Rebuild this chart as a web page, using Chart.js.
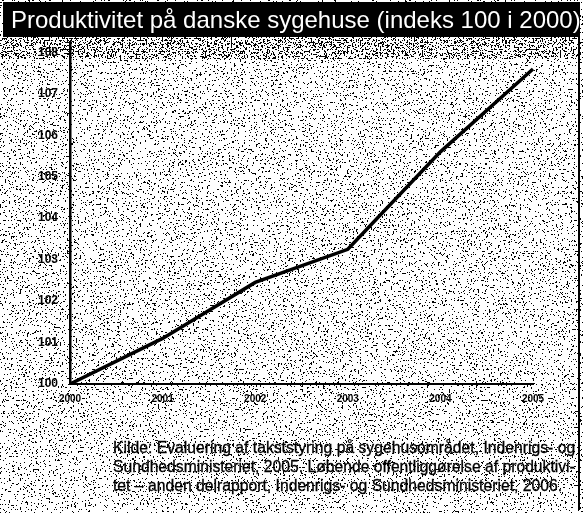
<!DOCTYPE html>
<html lang="da">
<head>
<meta charset="utf-8">
<title>Produktivitet på danske sygehuse</title>
<script src="https://cdn.jsdelivr.net/npm/chart.js@4.4.1/dist/chart.umd.min.js"></script>
<style>
  html, body { margin: 0; padding: 0; background: #fff; }
  #ramme { position: relative; width: 583px; height: 513px; overflow: hidden; font-family: "Liberation Sans", Arial, sans-serif; }
  #stoej, #graf { position: absolute; left: 0; top: 0; }
  #titel {
    position: absolute; left: 3px; top: 2px; width: 577px; height: 35px;
    background: #000; color: #fff; font-size: 24px; line-height: 35px;
    white-space: nowrap; box-sizing: border-box; padding-left: 8px;
  }
  #kant { position: absolute; left: 578px; top: 37px; width: 2px; height: 473px; background: #000; }
  .kilde {
    position: absolute; left: 113px; font-size: 16.5px; color: #000;
    white-space: nowrap; transform-origin: 0 0;
    -webkit-text-stroke: 0.3px #000;
  }
</style>
</head>
<body>
<div id="ramme">
  <!-- scannet baggrund: deterministisk støj via SVG-filter -->
  <svg id="stoej" width="583" height="513">
    <filter id="prik" x="0" y="0" width="100%" height="100%">
      <feTurbulence type="fractalNoise" baseFrequency="0.55" numOctaves="2" seed="7"/>
      <feColorMatrix type="matrix" values="0 0 0 0 0  0 0 0 0 0  0 0 0 0 0  1 0 0 0 0"/>
      <feComponentTransfer>
        <feFuncA type="discrete" tableValues="0 0 0 0 0 0 0 0 0 0 0 0 0 1 1 1 1 1 1 1"/>
      </feComponentTransfer>
    </filter>
    <filter id="taet" x="0" y="0" width="100%" height="100%">
      <feTurbulence type="fractalNoise" baseFrequency="0.55" numOctaves="2" seed="11"/>
      <feColorMatrix type="matrix" values="0 0 0 0 0  0 0 0 0 0  0 0 0 0 0  1 0 0 0 0"/>
      <feComponentTransfer>
        <feFuncA type="discrete" tableValues="0 0 0 0 0 0 0 0 0 0 0 0 1 1 1 1 1 1 1 1"/>
      </feComponentTransfer>
    </filter>
    <rect width="583" height="513" filter="url(#prik)"/>
    <rect y="37" width="583" height="22" filter="url(#taet)"/>
  </svg>
  <canvas id="graf" width="583" height="513"></canvas>
  <div id="titel">Produktivitet på danske sygehuse (indeks 100 i 2000)</div>
  <div id="kant"></div>
  <div class="kilde" id="linje1" style="top:438px">Kilde: Evaluering af takststyring på sygehusområdet, Indenrigs- og</div>
  <div class="kilde" id="linje2" style="top:457px">Sundhedsministeriet, 2005. Løbende offentliggørelse af produktivi-</div>
  <div class="kilde" id="linje3" style="top:476px">tet – anden delrapport, Indenrigs- og Sundhedsministeriet, 2006.</div>
</div>
<script>
// Data
const aar = ['2000', '2001', '2002', '2003', '2004', '2005'];
const indeks = [100, 101.1, 102.45, 103.25, 105.6, 107.6];
const yTicks = [100, 101, 102, 103, 104, 105, 106, 107, 108];

// Kildeteksten er smal skrift - presses til bredden
function tilpasKilde() {
    const l1 = document.getElementById('linje1');
    const l2 = document.getElementById('linje2');
    const l3 = document.getElementById('linje3');
    const k1 = 462 / l1.scrollWidth;
    const k2 = 462 / l2.scrollWidth;
    l1.style.transform = `scaleX(${k1})`;
    l2.style.transform = `scaleX(${k2})`;
    l3.style.transform = `scaleX(${k1})`;
}

function tegnGraf() {
    const ctx = document.getElementById('graf').getContext('2d');
    new Chart(ctx, {
        type: 'line',
        data: {
            labels: aar,
            datasets: [{
                data: indeks,
                borderColor: '#000',
                borderWidth: 3.5,
                pointRadius: 0,
                tension: 0,
                fill: false
            }]
        },
        options: {
            responsive: false,
            animation: false,
            layout: { padding: { left: 0, right: 50, top: 42, bottom: 105 } },
            plugins: { legend: { display: false }, tooltip: { enabled: false } },
            scales: {
                x: {
                    offset: false,
                    grid: { display: false, drawTicks: false },
                    border: { display: true, color: '#000', width: 2 },
                    ticks: {
                        color: '#000', padding: 9, maxRotation: 0, autoSkip: false,
                        font: { family: 'Liberation Sans', size: 10, weight: 'bold' }
                    },
                    afterFit(s) { s.height = 24; }
                },
                y: {
                    min: 100,
                    max: 108.25,
                    grid: { display: false, drawTicks: false },
                    border: { display: true, color: '#000', width: 2.5 },
                    ticks: {
                        color: '#000', padding: 12,
                        font: { family: 'Liberation Sans', size: 12, weight: 'bold' }
                    },
                    afterBuildTicks(s) { s.ticks = yTicks.map(v => ({ value: v })); },
                    afterFit(s) { s.width = 70; }
                }
            }
        }
    });
}

window.onload = () => { tilpasKilde(); tegnGraf(); };
</script>
</body>
</html>
